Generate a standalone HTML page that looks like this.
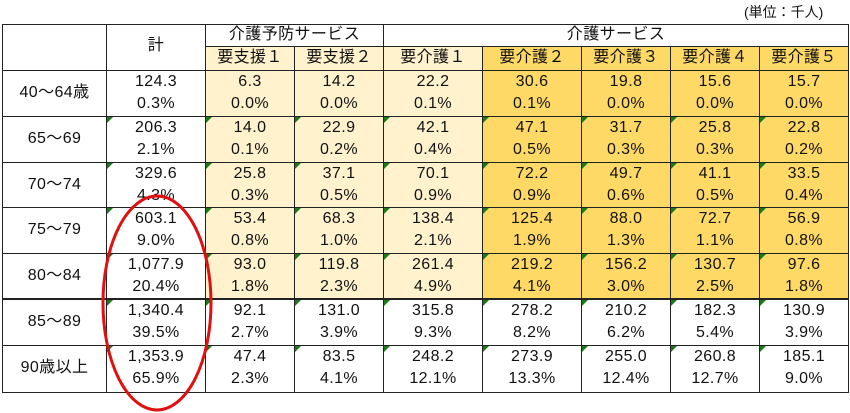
<!DOCTYPE html>
<html><head><meta charset="utf-8">
<style>
body{margin:0;width:850px;height:413px;background:#fff;position:relative;overflow:hidden;font-family:"Liberation Sans","Noto Sans CJK JP",sans-serif;color:#111}
.c{position:absolute;box-sizing:border-box;border:1px solid #222;text-align:center;font-size:16px;letter-spacing:0.4px}
.v{position:absolute;left:0;right:0;text-align:center;line-height:22px}
.tri{position:absolute;left:0;top:0;width:0;height:0;border-top:6px solid #1a7a1a;border-right:6px solid transparent}
</style></head>
<body>
<div style="position:absolute;left:744px;top:2px;font-size:14px">(単位：千人)</div>
<div id="t"></div>
<svg width="850" height="413" style="position:absolute;left:0;top:0;pointer-events:none"><ellipse cx="157" cy="303" rx="54" ry="107" fill="none" stroke="#e01010" stroke-width="3"/></svg>
<script>
const rowLabels=["40～64歳","65～69","70～74","75～79","80～84","85～89","90歳以上"];
const colLabels=["要支援１","要支援２","要介護１","要介護２","要介護３","要介護４","要介護５"];
const totals=["124.3","206.3","329.6","603.1","1,077.9","1,340.4","1,353.9"];
const totalPct=["0.3%","2.1%","4.3%","9.0%","20.4%","39.5%","65.9%"];
const vals=[["6.3","14.2","22.2","30.6","19.8","15.6","15.7"],["14.0","22.9","42.1","47.1","31.7","25.8","22.8"],["25.8","37.1","70.1","72.2","49.7","41.1","33.5"],["53.4","68.3","138.4","125.4","88.0","72.7","56.9"],["93.0","119.8","261.4","219.2","156.2","130.7","97.6"],["92.1","131.0","315.8","278.2","210.2","182.3","130.9"],["47.4","83.5","248.2","273.9","255.0","260.8","185.1"]];
const pcts=[["0.0%","0.0%","0.1%","0.1%","0.0%","0.0%","0.0%"],["0.1%","0.2%","0.4%","0.5%","0.3%","0.3%","0.2%"],["0.3%","0.5%","0.9%","0.9%","0.6%","0.5%","0.4%"],["0.8%","1.0%","2.1%","1.9%","1.3%","1.1%","0.8%"],["1.8%","2.3%","4.9%","4.1%","3.0%","2.5%","1.8%"],["2.7%","3.9%","9.3%","8.2%","6.2%","5.4%","3.9%"],["2.3%","4.1%","12.1%","13.3%","12.4%","12.7%","9.0%"]];
const xs=[2,106,205,294,383,482,581,670,759,848];
const ys=[70,116,162,207,253,299,345,392];
const LIGHT="#FFF2CC",GOLD="#FFD966";
const t=document.getElementById('t');
function cell(x,y,w,h,bg,name){const d=document.createElement('div');d.className='c';


d.style.cssText=`left:${x}px;top:${y}px;width:${w+1}px;height:${h+1}px;background:${bg}`;t.appendChild(d);return d;}
function txt(d,s,top){const v=document.createElement('div');v.className='v';v.style.top=top+'px';v.textContent=s;d.appendChild(v);}
let d=cell(xs[0],24,xs[1]-xs[0],46,'#fff','corner-header');
d=cell(xs[1],24,xs[2]-xs[1],46,'#fff','total-header');txt(d,'計',10);
d=cell(xs[2],24,xs[4]-xs[2],22,'#fff','prevention-service-header');txt(d,'介護予防サービス',-1);
d=cell(xs[4],24,xs[9]-xs[4],22,'#fff','care-service-header');txt(d,'介護サービス',-1);
colLabels.forEach((c,i)=>{d=cell(xs[i+2],46,xs[i+3]-xs[i+2],24,i<3?LIGHT:GOLD,'column-header-'+(i+1));txt(d,c,0);});
rowLabels.forEach((r,ri)=>{
 const y=ys[ri],h=ys[ri+1]-ys[ri];
 d=cell(xs[0],y,xs[1]-xs[0],h,'#fff','row-label-'+ri);txt(d,r,11);
 d=cell(xs[1],y,xs[2]-xs[1],h,'#fff','total-cell-'+ri);txt(d,totals[ri],0);txt(d,totalPct[ri],22);
 if(ri>0){const tr=document.createElement('div');tr.className='tri';d.appendChild(tr);}
 vals[ri].forEach((v,ci)=>{
  const bg=ri<5?(ci<3?LIGHT:GOLD):'#fff';
  d=cell(xs[ci+2],y,xs[ci+3]-xs[ci+2],h,bg,'data-cell-'+ri+'-'+ci);txt(d,v,0);txt(d,pcts[ri][ci],22);
  if(ri>0){const tr=document.createElement('div');tr.className='tri';d.appendChild(tr);}
 });
});
const ln=document.createElement('div');


ln.style.cssText='position:absolute;left:2px;top:298px;width:847px;height:2px;background:#222';t.appendChild(ln);
</script>
</body></html>
